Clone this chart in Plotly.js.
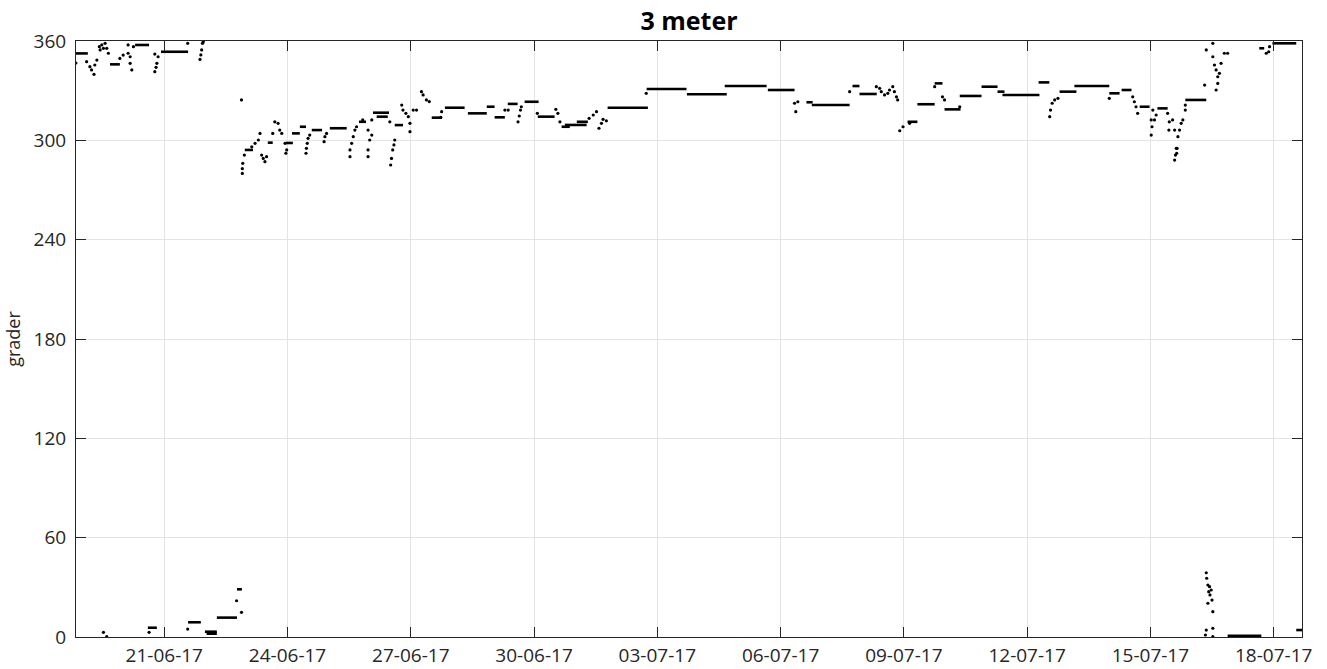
<!DOCTYPE html>
<html>
<head>
<meta charset="utf-8">
<script src="https://cdn.plot.ly/plotly-3.0.1.min.js"></script>
<style>html,body{margin:0;padding:0;background:#fff;}#chart{width:1327px;height:669px;}</style>
</head>
<body>
<div id="chart"></div>
<script>
// Time in days since 2017-06-18 00:00, values in degrees ("grader")
// Flat runs of measurements: start day, end day, value
const segStart = [0.85,1.68,2.29,2.92,2.60,3.58,3.99,4.03,4.28,4.77,
  4.96,5.52,5.96,6.11,6.30,6.59,7.03,7.74,8.08,8.17,8.61,9.51,9.83,10.39,10.85,11.04,11.36,11.77,12.09,12.67,12.75,13.04,
  13.79,14.74,15.72,16.64,17.69,18.63,18.76,19.75,19.92,21.09,21.33,21.75,21.99,22.36,22.89,23.28,23.40,24.28,24.79,25.15,26.00,26.30,26.74,27.17,27.85,
  29.65,29.97,28.88,30.55];
const segEnd = [1.14,1.92,2.63,3.58,2.82,3.89,4.28,4.28,4.77,4.89,
  5.16,5.64,6.13,6.30,6.45,6.84,7.44,7.91,8.47,8.44,8.81,9.76,10.31,10.85,11.04,11.29,11.60,12.11,12.50,12.87,13.28,13.31,
  14.77,15.71,16.69,17.66,18.34,18.78,19.68,19.92,20.34,21.33,21.75,21.94,22.38,22.89,23.28,23.45,24.30,24.54,25.20,26.00,26.25,26.54,26.98,27.42,28.36,
  29.77,30.55,29.70,30.70];
const segVal = [352.5,345.9,357.6,353.5,5.6,8.9,3.2,2.0,11.7,28.8,
  294.2,298.6,298.4,304.2,308.2,306.2,307.3,311.2,316.7,314.3,309.2,313.7,319.7,316.3,320.3,313.9,322.0,323.3,314.3,308.2,309.3,311.2,
  319.7,331.0,327.8,332.8,330.4,323.0,321.3,332.8,328.0,311.2,321.8,334.4,318.7,326.8,332.4,329.4,327.4,335.0,329.4,332.8,328.4,330.4,320.3,319.3,324.4,
  355.6,358.6,0.8,4.2];

// Individual scattered measurements
const ptDay = [0.85,1.11,1.19,1.23,1.29,1.31,1.36,1.42,1.48,1.56,1.60,1.64,1.52,1.44,1.92,2.00,2.12,2.17,2.21,2.17,2.25,2.12,
  2.77,2.85,2.82,2.80,2.77,3.57,3.95,3.93,3.91,3.89,3.87,
  1.52,1.60,2.63,3.57,4.88,4.76,
  4.88,4.90,4.90,4.91,4.95,5.21,5.29,5.33,5.13,5.41,5.45,5.49,5.37,5.64,5.69,5.77,5.81,5.86,5.94,5.98,5.96,
  6.45,6.46,6.48,6.50,6.54,6.89,6.91,6.95,7.52,7.52,7.56,7.60,7.64,7.68,7.83,7.96,7.96,8.00,8.05,7.96,8.05,
  8.51,8.53,8.56,8.59,8.61,8.49,8.78,8.81,8.88,8.94,8.98,8.98,9.06,9.14,9.26,9.30,9.38,9.45,9.75,9.73,
  11.29,11.37,11.61,11.64,11.67,11.69,12.08,12.53,12.58,12.63,13.34,13.44,13.52,13.58,13.64,13.68,13.76,14.73,
  18.34,18.37,18.42,19.68,20.33,20.41,20.45,20.53,20.61,20.65,20.73,20.77,20.82,20.85,20.90,20.98,21.14,
  21.75,21.94,21.99,22.36,24.55,24.57,24.61,24.67,24.75,26.00,26.57,26.61,26.65,26.69,
  27.02,27.04,27.02,27.14,27.46,27.45,27.54,27.59,27.63,27.61,27.59,27.67,27.06,27.10,27.42,27.64,27.65,27.71,27.75,27.79,27.85,27.85,
  28.32,28.52,28.36,28.52,28.56,28.60,28.64,28.64,28.60,28.68,28.72,28.80,28.88,29.82,29.88,29.90,
  28.36,28.37,28.40,28.44,28.48,28.42,28.45,28.40,28.50,28.52,28.36,28.34,28.52,28.52];
const ptVal = [346.7,347.5,344.5,342.5,339.9,345.5,348.5,356.6,357.6,358.6,355.6,352.6,355.6,354.6,349.5,351.5,352.6,350.5,342.5,346.5,356.6,357.6,
  352.1,350.5,346.5,344.1,341.5,358.6,359.6,358.6,354.6,351.6,348.9,
  2.8,0.2,2.8,4.8,14.9,21.9,
  324.4,282.9,280.0,286.1,291.1,298.2,300.2,304.2,296.1,289.1,287.1,290.1,291.1,304.2,311.2,310.3,306.2,304.2,298.2,294.2,292.2,
  292.2,295.2,298.2,301.2,303.2,299.2,302.2,304.2,290.1,294.2,298.2,302.2,306.2,308.2,312.3,290.1,294.2,300.2,303.2,306.2,312.3,
  285.1,289.1,294.2,297.2,300.2,311.2,321.3,318.3,316.3,314.3,310.3,305.2,318.3,318.3,329.4,327.4,324.4,323.4,317.3,313.9,
  318.3,318.3,311.2,314.7,318.3,320.3,316.3,318.7,316.3,311.2,313.3,315.3,317.3,307.3,310.3,312.7,311.8,328.4,
  322.4,317.3,323.3,329.4,332.4,331.4,329.4,327.4,328.4,330.4,332.4,329.4,326.3,324.4,305.8,308.2,310.3,
  332.4,326.3,324.4,320.3,314.3,318.3,322.4,324.4,325.4,325.4,326.3,323.3,320.3,316.3,
  312.3,308.2,303.2,315.3,311.2,306.2,312.3,306.2,295.2,291.1,288.1,302.2,318.3,312.3,316.3,292.2,295.2,306.2,310.3,312.3,318.3,321.3,
  333.4,358.6,354.6,350.5,345.5,342.5,338.4,334.4,330.4,340.5,346.5,352.6,352.6,352.6,353.5,356.6,
  38.8,35.5,31.4,30.4,28.4,27.4,25.4,20.4,22.3,15.3,4.2,1.2,5.3,0.3];

const yTicks = [0, 60, 120, 180, 240, 300, 360];
const xTickStart = '2017-06-21';

const BASE = Date.UTC(2017, 5, 18);
const DAY = 86400000;
const toDate = d => BASE + d * DAY;

const segX = [], segY = [];
for (let i = 0; i < segStart.length; i++) {
  segX.push(toDate(segStart[i]), toDate(segEnd[i]), null);
  segY.push(segVal[i], segVal[i], null);
}

const traces = [
  {x: segX, y: segY, type: 'scatter', mode: 'lines', line: {color: '#000', width: 2.6}, hoverinfo: 'skip', showlegend: false},
  {x: ptDay.map(toDate), y: ptVal, type: 'scatter', mode: 'markers', marker: {color: '#000', size: 3.2}, showlegend: false}
];

const FONT = 'Open Sans, Noto Sans, sans-serif';
const axisCommon = {
  showline: true, linecolor: '#262626', linewidth: 1, mirror: 'ticks',
  ticks: 'inside', ticklen: 10, tickcolor: '#262626', tickwidth: 1,
  showgrid: true, gridcolor: '#e3e3e3', gridwidth: 1, zeroline: false,
  tickfont: {family: FONT, size: 19, color: '#262626'}
};

const layout = {
  width: 1327, height: 669,
  paper_bgcolor: '#fff', plot_bgcolor: '#fff',
  margin: {l: 76, r: 25, t: 41, b: 32, pad: 0},
  title: {text: '3 meter', font: {family: FONT, size: 25, color: '#000', weight: 700},
    x: 0.5, xref: 'paper', xanchor: 'center', y: 0.968, yref: 'container', yanchor: 'middle'},
  xaxis: Object.assign({}, axisCommon, {
    type: 'date', range: [toDate(0.852), toDate(30.69)],
    tick0: xTickStart, dtick: 3 * DAY, tickformat: '%d-%m-%y', ticklabelstandoff: 1
  }),
  yaxis: Object.assign({}, axisCommon, {
    range: [0, 360], tickvals: yTicks, ticklabelstandoff: 5,
    title: {text: 'grader', font: {family: FONT, size: 18, color: '#262626'}, standoff: 8}
  }),
  showlegend: false
};

Plotly.newPlot('chart', traces, layout, {displayModeBar: false, staticPlot: true});
</script>
</body>
</html>
